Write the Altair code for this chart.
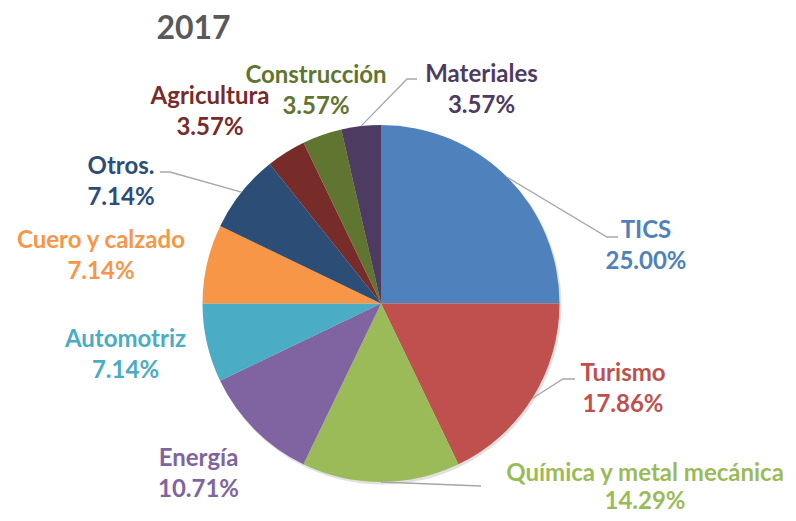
import math
import altair as alt
import pandas as pd

# ---- data ----
sectors = ["TICS", "Turismo", "Química y metal mecánica", "Energía", "Automotriz",
           "Cuero y calzado", "Otros.", "Agricultura", "Construcción", "Materiales"]
shares = [25.00, 17.86, 14.29, 10.71, 7.14, 7.14, 7.14, 3.57, 3.57, 3.57]
colors = ["#4F81BD", "#C0504D", "#9BBB59", "#8064A2", "#4BACC6",
          "#F79646", "#2C4D75", "#772C2A", "#5F7530", "#4D3B62"]
title_text = "2017"

# ---- layout (page pixels) ----
W, H = 780, 505
M = 8
CX, CY, R = 381, 303.5, 178.5
FONT = "Lato"
FS = 24
CAP = 0.358 * FS  # half cap height -> baseline offset from cap centre
label_x = [646, 623, 645, 198.5, 125.5, 101, 121, 210, 316, 481.5]
label_y = [229, 372, 472, 457, 338, 239, 165, 95, 74, 73]
label_gap = [31, 31, 28, 31, 31, 31, 31, 31, 31, 31]
leader_pts = {
    "TICS": [(607, 237), (618, 237)],
    "Turismo": [(563, 379), (575, 379)],
    "Química y metal mecánica": [(481, 486)],
    "Otros.": [(170, 172), (160, 172)],
    "Materiales": [(407, 79), (417, 79)],
}

total = sum(shares)
df = pd.DataFrame({"sector": sectors, "share": shares, "idx": range(len(sectors))})
df["pct"] = [f"{v:.2f}%" for v in shares]
df["lx"] = label_x
df["ly1"] = [y + CAP for y in label_y]
df["ly2"] = [y + g + CAP for y, g in zip(label_y, label_gap)]

# leader lines start at the outer edge of the slice midpoint
rows = []
cum = 0.0
for s, v in zip(sectors, shares):
    mid = (cum + v / 2) / total * 2 * math.pi
    cum += v
    if s in leader_pts:
        pts = [(CX + R * math.sin(mid), CY - R * math.cos(mid))] + leader_pts[s]
        for k, (px, py) in enumerate(pts):
            rows.append({"sector": s, "k": k, "x": px, "y": py})
lines_df = pd.DataFrame(rows)

xs = alt.Scale(domain=[M, M + W])
ys = alt.Scale(domain=[M, M + H], reverse=True)
cscale = alt.Scale(domain=sectors, range=colors)

shadow = alt.Chart(df).mark_arc(radius=R + 0.5, color="#000000", opacity=0.12).encode(
    theta=alt.Theta("share:Q", stack=True),
    order=alt.Order("idx:Q"),
    x=alt.value(CX - M + 1.5),
    y=alt.value(CY - M + 2),
)

pie = alt.Chart(df).mark_arc(radius=R).encode(
    theta=alt.Theta("share:Q", stack=True),
    color=alt.Color("sector:N", scale=cscale, legend=None),
    order=alt.Order("idx:Q"),
    x=alt.value(CX - M),
    y=alt.value(CY - M),
)

leaders = alt.Chart(lines_df).mark_line(color="#A6A6A6", strokeWidth=1.3).encode(
    x=alt.X("x:Q", scale=xs, axis=None),
    y=alt.Y("y:Q", scale=ys, axis=None),
    detail="sector:N",
    order="k:Q",
)

txt = dict(font=FONT, fontWeight="bold", fontSize=FS, align="center", baseline="alphabetic")
names = alt.Chart(df).mark_text(**txt).encode(
    x=alt.X("lx:Q", scale=xs, axis=None),
    y=alt.Y("ly1:Q", scale=ys, axis=None),
    text="sector:N",
    color=alt.Color("sector:N", scale=cscale, legend=None),
)
pcts = alt.Chart(df).mark_text(**txt).encode(
    x=alt.X("lx:Q", scale=xs, axis=None),
    y=alt.Y("ly2:Q", scale=ys, axis=None),
    text="pct:N",
    color=alt.Color("sector:N", scale=cscale, legend=None),
)

title = alt.Chart(pd.DataFrame({"t": [title_text]})).mark_text(
    font=FONT, fontWeight="bold", fontSize=32, align="center", baseline="alphabetic", color="#595959"
).encode(
    x=alt.value(193.5 - M),
    y=alt.value(38.5 - M),
    text="t:N",
)

chart = alt.layer(shadow, pie, leaders, names, pcts, title).properties(
    width=W, height=H, padding=0,
    autosize=alt.AutoSizeParams(type="none"),
).configure_view(stroke=None)

chart.save("out.html", embed_options={"renderer": "svg", "actions": False})
